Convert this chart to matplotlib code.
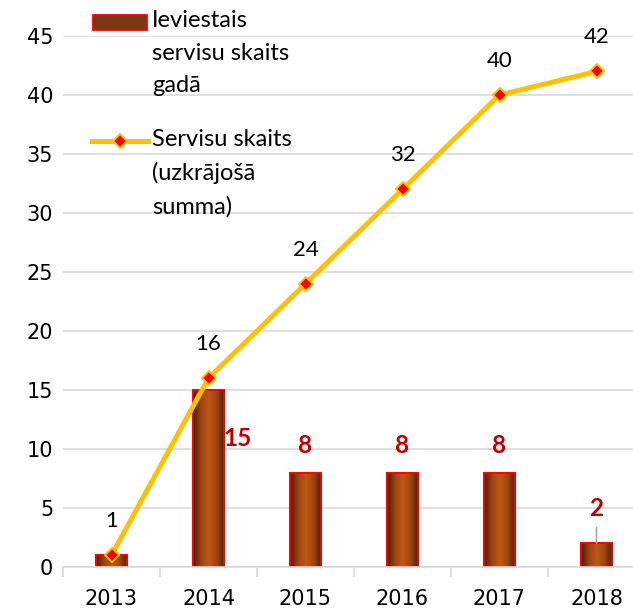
import numpy as np
import matplotlib.pyplot as plt
from matplotlib.colors import LinearSegmentedColormap
from matplotlib.lines import Line2D
from matplotlib.patches import Rectangle

years = ['2013', '2014', '2015', '2016', '2017', '2018']
per_year = [1, 15, 8, 8, 8, 2]          # Ieviestais servisu skaits gadā
cumulative = [1, 16, 24, 32, 40, 42]    # Servisu skaits (uzkrājošā summa)
yticks = [0, 5, 10, 15, 20, 25, 30, 35, 40, 45]

label_font = 'Lato'
red_lbl = '#C00000'
gold = '#FFC000'
grid_c = '#D9D9D9'

fig = plt.figure(figsize=(6.33, 6.09), dpi=100)
ax = fig.add_axes([63 / 633, 1 - 567 / 609, 582 / 633, (567 - 36) / 609])

x = np.arange(len(years))
bw = 0.32
bars = ax.bar(x, per_year, width=bw, color='#8B3F10', edgecolor='#FF0000',
              linewidth=1.3, zorder=2)

# brown gradient inside bars (dark sides, orange middle)
cmap = LinearSegmentedColormap.from_list(
    'br', ['#4A1F05', '#9E4410', '#C05716', '#9E4410', '#4A1F05'])
grad = np.linspace(0, 1, 64).reshape(1, -1)
for b in bars:
    bx, by = b.get_x(), b.get_y()
    im = ax.imshow(grad, cmap=cmap, aspect='auto', zorder=2.1,
                   extent=(bx, bx + b.get_width(), by, by + b.get_height()))
    im.set_clip_path(b)
    edge = Rectangle((bx, by), b.get_width(), b.get_height(), fill=False,
                     edgecolor='#FF0000', linewidth=1.3, zorder=2.2)
    ax.add_patch(edge)

ax.plot(x, cumulative, color=gold, linewidth=3.6, marker='D', markersize=7.5,
        markerfacecolor='#FF0000', markeredgecolor=gold, markeredgewidth=1.4,
        zorder=4)

# line labels
for i, v in enumerate(cumulative):
    ax.annotate(str(v), (x[i], v), xytext=(0, 34), textcoords='offset pixels',
                ha='center', va='center', fontsize=16, family=label_font,
                color='black', zorder=5)

# bar labels (the 2013 one is hidden under the line label in the original)
for i, v in enumerate(per_year):
    if v <= 1:
        continue
    if v >= 15:
        off = (29, -48)
    elif v <= 2:
        off = (0, 35)
    else:
        off = (0, 27)
    ax.annotate(str(v), (x[i], v), xytext=off, textcoords='offset pixels',
                ha='center', va='center', fontsize=17.5, fontweight='bold',
                family=label_font, color=red_lbl, zorder=5)
    if v <= 2:
        ax.annotate('', (x[i], v), xytext=(0, 16), textcoords='offset pixels',
                    arrowprops=dict(arrowstyle='-', color='#A6A6A6', lw=1.2,
                                    shrinkA=0, shrinkB=0))

ax.set_xlim(-0.5, len(years) - 0.5)
ax.set_ylim(0, 45)
ax.set_yticks(yticks)
ax.set_xticks(x)
ax.set_xticklabels(years)
ax.set_xticks(np.arange(-0.5, len(years)), minor=True)
ax.tick_params(axis='x', which='major', length=0, labelsize=15, pad=16)
ax.tick_params(axis='x', which='minor', length=7, color=grid_c, width=1.2)
ax.tick_params(axis='y', length=0, labelsize=15, pad=7)
ax.yaxis.grid(True, color=grid_c, linewidth=1.2, zorder=0)
ax.set_axisbelow(True)
for s in ['top', 'right', 'left']:
    ax.spines[s].set_visible(False)
ax.spines['bottom'].set_color(grid_c)
ax.spines['bottom'].set_linewidth(1.2)

# legend, drawn by hand so the markers sit on the first text line
W, H = 633, 609
fig.add_artist(Rectangle((93 / W, 1 - 30 / H), 54 / W, 15 / H,
                         transform=fig.transFigure, facecolor='#7A3810',
                         edgecolor='#FF0000', linewidth=1.3))
fig.add_artist(Line2D([92 / W, 148 / W], [1 - 141 / H, 1 - 141 / H],
                      transform=fig.transFigure, color=gold, linewidth=3.6))
fig.add_artist(Line2D([120 / W], [1 - 141 / H], transform=fig.transFigure,
                      marker='D', markersize=7.5, markerfacecolor='#FF0000',
                      markeredgecolor=gold, markeredgewidth=1.4))
fig.text(152 / W, 1 - 10 / H, 'Ieviestais\nservisu skaits\ngadā',
         va='top', ha='left', fontsize=17, family=label_font, linespacing=1.68,
         transform=fig.transFigure)
fig.text(152 / W, 1 - 129 / H, 'Servisu skaits\n(uzkrājošā\nsumma)',
         va='top', ha='left', fontsize=17, family=label_font, linespacing=1.68,
         transform=fig.transFigure)

fig.savefig('out.png', dpi=100)
